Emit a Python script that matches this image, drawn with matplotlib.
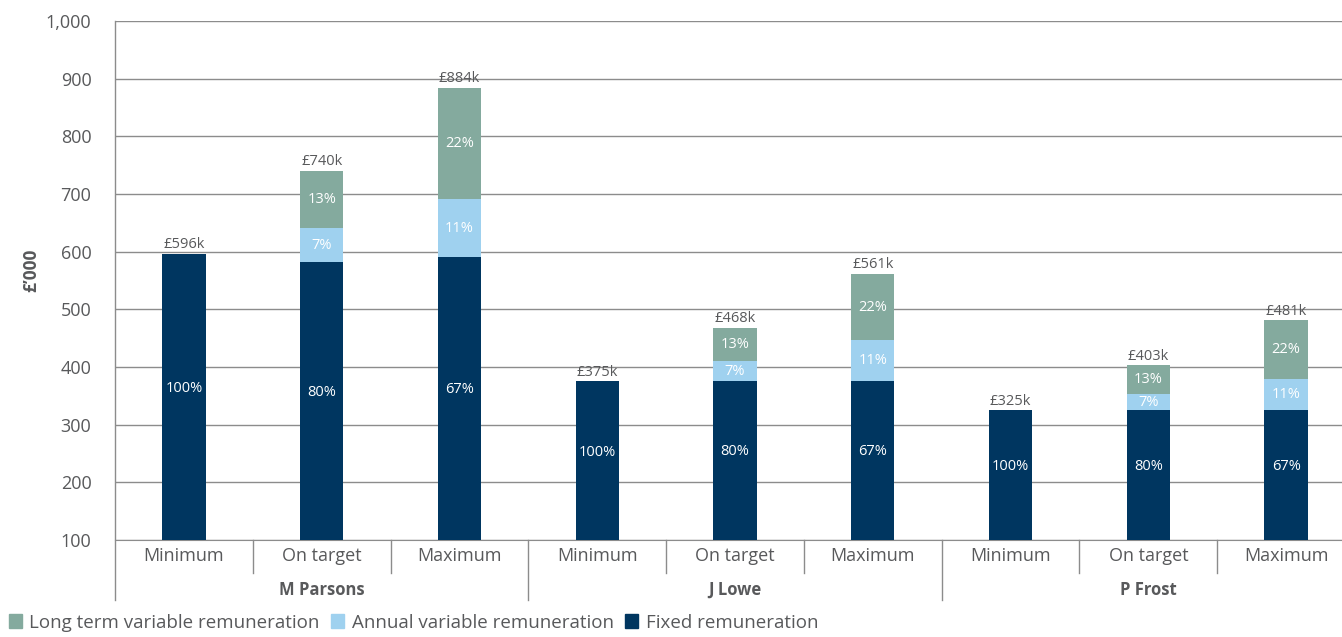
import matplotlib.pyplot as plt
import matplotlib.transforms as mtransforms
from matplotlib.patches import Patch
import numpy as np

# data (in £'000)
people = ['M Parsons', 'J Lowe', 'P Frost']
scenarios = ['Minimum', 'On target', 'Maximum']
fixed = [596, 582, 591, 375, 376, 376, 325, 325, 325]
annual = [0, 59, 100, 0, 34, 71, 0, 28, 54]
long_term = [0, 99, 193, 0, 58, 114, 0, 50, 102]
totals = ['£596k', '£740k', '£884k', '£375k', '£468k', '£561k', '£325k', '£403k', '£481k']
fixed_pct = ['100%', '80%', '67%', '100%', '80%', '67%', '100%', '80%', '67%']
annual_pct = ['', '7%', '11%', '', '7%', '11%', '', '7%', '11%']
lt_pct = ['', '13%', '22%', '', '13%', '22%', '', '13%', '22%']

c_fixed = '#003660'
c_annual = '#9fd1ef'
c_lt = '#84aa9e'
grey = '#58595b'
line_c = '#8c8c8c'

plt.rcParams['font.family'] = ['Open Sans', 'DejaVu Sans']

fig = plt.figure(figsize=(13.42, 6.37), dpi=100)
# plot area runs a little past the right edge of the image, as in the original
ax = fig.add_axes([115/1342, 1-540/637, 1240/1342, 519/637])

x = np.arange(len(fixed))
w = 0.315
fixed = np.array(fixed)
annual = np.array(annual)
long_term = np.array(long_term)

ax.bar(x, fixed, w, color=c_fixed, zorder=3)
ax.bar(x, annual, w, bottom=fixed, color=c_annual, zorder=3)
ax.bar(x, long_term, w, bottom=fixed+annual, color=c_lt, zorder=3)

ymin = 100
fs_in = 10.5
for i in range(len(x)):
    # labels inside the segments
    ax.text(x[i], (ymin + fixed[i])/2 + 15, fixed_pct[i], ha='center', va='center',
            color='white', fontsize=fs_in, zorder=4)
    if annual_pct[i]:
        ax.text(x[i], fixed[i] + annual[i]/2, annual_pct[i], ha='center', va='center',
                color='white', fontsize=fs_in, zorder=4)
    if lt_pct[i]:
        ax.text(x[i], fixed[i] + annual[i] + long_term[i]/2, lt_pct[i], ha='center',
                va='center', color='white', fontsize=fs_in, zorder=4)
    top = fixed[i] + annual[i] + long_term[i]
    ax.text(x[i], top + 3, totals[i], ha='center', va='bottom', color=grey, fontsize=fs_in)

ax.set_xlim(-0.5, len(x) - 0.5)
ax.set_ylim(100, 1000)
ax.set_yticks(range(100, 1001, 100))
ax.set_yticklabels([f'{v:,}' for v in range(100, 1001, 100)])
ax.yaxis.grid(True, color=line_c, lw=1)
ax.set_axisbelow(True)
ax.tick_params(axis='y', length=0, labelsize=13, labelcolor=grey, pad=17)
ax.tick_params(axis='x', length=0)
ax.set_xticks([])
for s in ['top', 'right']:
    ax.spines[s].set_visible(False)
ax.spines['left'].set_visible(False)
ax.spines['bottom'].set_color(line_c)

ax.set_ylabel("£’000", fontsize=12.5, fontweight='bold', color=grey)
ax.yaxis.set_label_coords(-75/1240, 0.52)

# two-level category axis below the plot
trans = mtransforms.blended_transform_factory(ax.transData, ax.transAxes)
h = 519
for i in range(len(x)):
    ax.text(x[i], -16/h, scenarios[i % 3], transform=trans, ha='center', va='center',
            fontsize=13, color=grey)
for g, name in enumerate(people):
    ax.text(3*g + 1, -50/h, name, transform=trans, ha='center', va='center',
            fontsize=12, fontweight='bold', color=grey)
for b in [0.5, 1.5, 3.5, 4.5, 6.5, 7.5]:
    ax.plot([b, b], [0, -33/h], transform=trans, color=line_c, lw=1, clip_on=False)
for b in [2.5, 5.5]:
    ax.plot([b, b], [0, -60/h], transform=trans, color=line_c, lw=1, clip_on=False)
ax.plot([-0.5, -0.5], [-60/h, 1], transform=trans, color=line_c, lw=1, clip_on=False)

handles = [Patch(color=c_lt, label='Long term variable remuneration'),
           Patch(color=c_annual, label='Annual variable remuneration'),
           Patch(color=c_fixed, label='Fixed remuneration')]
fig.legend(handles=handles, loc='lower left', bbox_to_anchor=(-0.006, -0.018), ncol=3,
           frameon=False, fontsize=13.5, handlelength=0.7, handleheight=0.7,
           handletextpad=0.4, columnspacing=0.6, labelcolor=grey)

fig.savefig('out.png', dpi=100)
